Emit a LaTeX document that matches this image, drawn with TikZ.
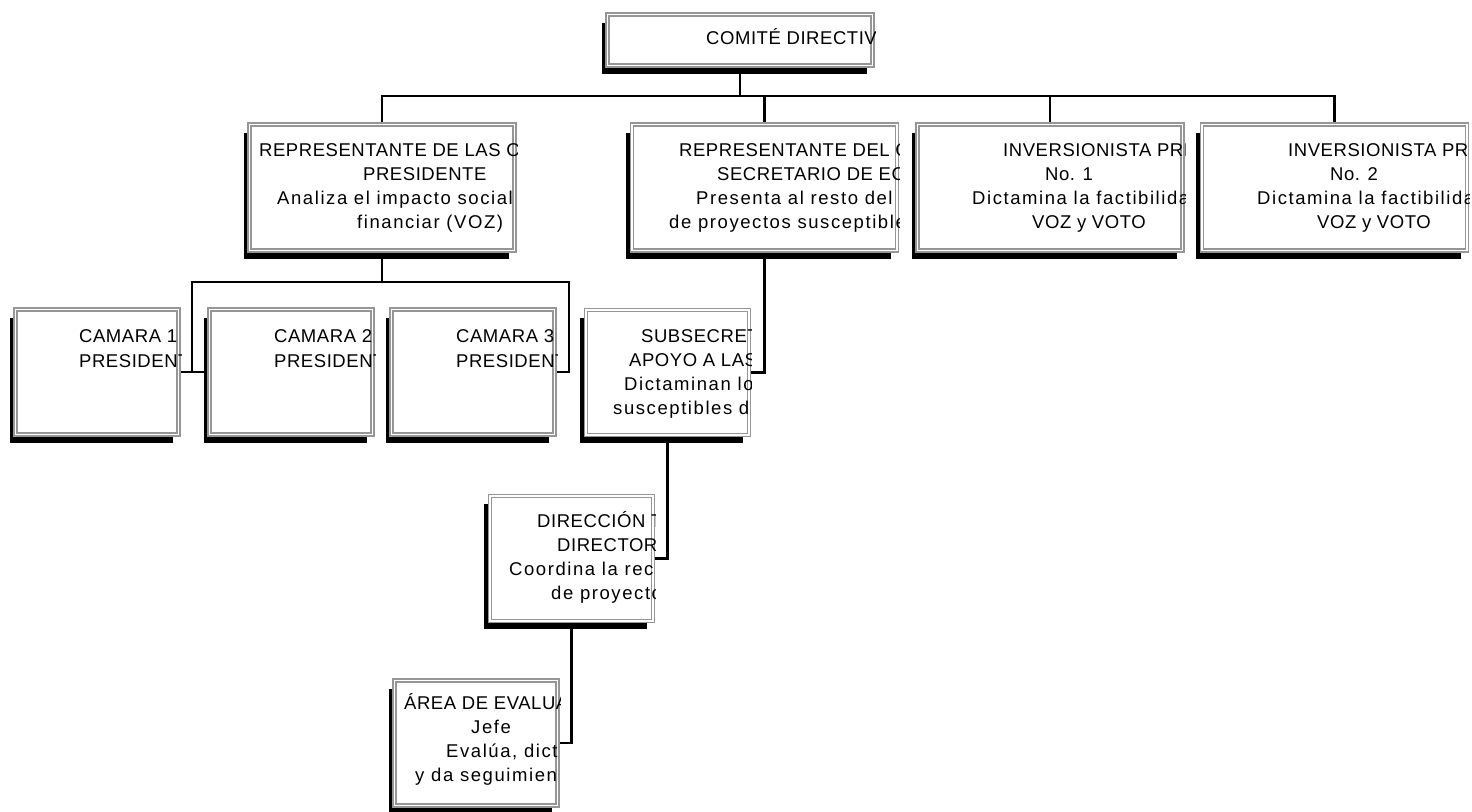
\documentclass[tikz,border=0pt]{standalone}
\usepackage{fontspec}
\setmainfont{Liberation Sans}
\newfontfamily\capfont{Liberation Sans}[LetterSpace=3]
\newfontfamily\lowfont{Liberation Sans}[LetterSpace=8.5]
\usetikzlibrary{shadows}
\definecolor{boxgray}{RGB}{150,150,150}
\pgfdeclarelayer{bg}
\pgfsetlayers{bg,main}
\newcommand\boxtext[2]{\begin{scope}\clip ([xshift=-2pt]#1.north west) rectangle ([xshift=2pt]#1.south east); #2 \end{scope}}
\begin{document}
\begin{tikzpicture}[x=1pt,y=-1pt,
  orgbox/.style={draw=boxgray, double=white, double distance=1.5pt, line width=1.5pt, fill=white, inner sep=0pt,
    general shadow={fill=black, shadow xshift=-6pt, shadow yshift=-8pt}},
  widebox/.style={orgbox, minimum width=265pt, minimum height=126pt},
  smallbox/.style={orgbox, minimum width=163pt, minimum height=125pt},
  topbox/.style={orgbox, minimum width=265pt, minimum height=51pt},
  txt/.style={anchor=base west, inner sep=0pt, font=\capfont\fontsize{18.5}{22}\selectfont},
  ltxt/.style={anchor=base west, inner sep=0pt, font=\lowfont\fontsize{18.5}{22}\selectfont},
  link/.style={line width=2.4pt, draw=black}]
\begin{pgfonlayer}{bg}
\fill[white] (0,0) rectangle (1472,811);
\end{pgfonlayer}
\useasboundingbox (0,0) rectangle (1472,811);

% boxes
\node[topbox] (top) at (740,40) {};
\node[widebox] (r1) at (382,187.5) {};
\node[widebox] (r2) at (764.5,187.5) {};
\node[widebox] (r3) at (1050,187.5) {};
\node[widebox] (r4) at (1334.5,187.5) {};
\node[smallbox] (c1) at (97,372) {};
\node[smallbox] (c2) at (291,372) {};
\node[smallbox] (c3) at (473,372) {};
\node[smallbox] (sub) at (667.5,372.5) {};
\node[smallbox] (dir) at (571.5,558.5) {};
\node[smallbox] (area) at (476,743) {};

% texts
\boxtext{top}{\node[txt] (t0) at (706,44) {COMITÉ DIRECTIVO};}
\boxtext{r1}{
 \node[txt] (t1a) at (259,156) {REPRESENTANTE DE LAS CÁ};
 \node[txt] (t1b) at (363,180) {PRESIDENTE};
 \node[ltxt] (t1c) at (277,204) {Analiza el impacto social};
 \node[ltxt] (t1d) at (357,228) {financiar (VOZ)};}
\boxtext{r2}{
 \node[txt] (t2a) at (679,156) {REPRESENTANTE DEL GO};
 \node[txt] (t2b) at (717,180) {SECRETARIO DE EC};
 \node[ltxt] (t2c) at (696,204) {Presenta al resto del};
 \node[ltxt] (t2d) at (669,228) {de proyectos susceptible};}
\boxtext{r3}{
 \node[txt] (t3a) at (1003,156) {INVERSIONISTA PRI};
 \node[txt] (t3b) at (1045,180) {No. 1};
 \node[ltxt] (t3c) at (972,204) {Dictamina la factibilida};
 \node[txt] (t3d) at (1032,228) {VOZ y VOTO};}
\boxtext{r4}{
 \node[txt] (t4a) at (1288,156) {INVERSIONISTA PRI};
 \node[txt] (t4b) at (1330,180) {No. 2};
 \node[ltxt] (t4c) at (1257,204) {Dictamina la factibilida};
 \node[txt] (t4d) at (1317,228) {VOZ y VOTO};}
\boxtext{c1}{
 \node[txt] (t5a) at (79,342) {CAMARA 1};
 \node[txt] (t5b) at (79,367) {PRESIDENT};}
\boxtext{c2}{
 \node[txt] (t6a) at (274,342) {CAMARA 2};
 \node[txt] (t6b) at (274,367) {PRESIDENT};}
\boxtext{c3}{
 \node[txt] (t7a) at (456,342) {CAMARA 3};
 \node[txt] (t7b) at (456,367) {PRESIDENT};}
\boxtext{sub}{
 \node[txt] (t8a) at (641,342) {SUBSECRETA};
 \node[txt] (t8b) at (629,366) {APOYO A LAS};
 \node[ltxt] (t8c) at (624,390) {Dictaminan lo};
 \node[ltxt] (t8d) at (613,414) {susceptibles d};}
\boxtext{dir}{
 \node[txt] (t9a) at (537,527) {DIRECCIÓN T};
 \node[txt] (t9b) at (557,551) {DIRECTOR};
 \node[ltxt] (t9c) at (509,575) {Coordina la rec};
 \node[ltxt] (t9d) at (551,599) {de proyecto};}
\boxtext{area}{
 \node[txt] (t10a) at (404,709) {ÁREA DE EVALUA};
 \node[ltxt] (t10b) at (471,733) {Jefe};
 \node[ltxt] (t10c) at (446,757) {Evalúa, dict};
 \node[ltxt] (t10d) at (415,781) {y da seguimien};}

% connectors
\begin{pgfonlayer}{bg}
\coordinate (b1) at (740,96);
\coordinate (b2) at (382,282);
\coordinate (j1) at (192,372);
\coordinate (j3) at (569,372);
\draw[link] (top.south) -- (b1);
\draw[link] (r1.north) |- (b1);
\draw[link] (r2.north) |- (b1);
\draw[link] (r3.north) |- (b1);
\draw[link] (r4.north) |- (b1);
\draw[link] (r1.south) -- (b2) -| (j1);
\draw[link] (b2) -| (j3) -- (c3.east);
\draw[link] (c1.east) -- (c2.west);
\draw[link] (r2.south) |- (sub.east);
\draw[link] (sub.south) |- (dir.east);
\draw[link] (dir.south) |- (area.east);
\end{pgfonlayer}
\end{tikzpicture}
\end{document}
